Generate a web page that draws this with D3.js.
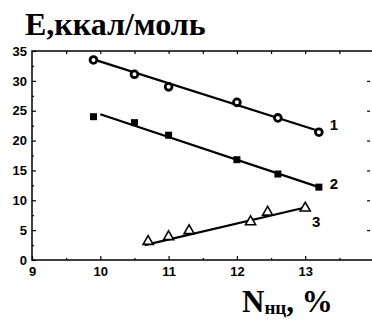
<!DOCTYPE html>
<html>
<head>
<meta charset="utf-8">
<script src="https://cdn.jsdelivr.net/npm/d3@7"></script>
<style>
  body { margin: 0; background: #fff; }
  svg { display: block; }
</style>
</head>
<body>
<div id="chart"></div>
<script>
// data
const x1 = [9.9, 10.5, 11.0, 12.0, 12.6, 13.2];
const e1 = [33.5, 31.1, 29.0, 26.4, 23.8, 21.4];
const x2 = [9.9, 10.5, 11.0, 12.0, 12.6, 13.2];
const e2 = [24.0, 23.0, 20.9, 16.8, 14.4, 12.2];
const x3 = [10.7, 11.0, 11.3, 12.2, 12.45, 13.0];
const e3 = [3.1, 3.9, 4.9, 6.4, 8.0, 8.7];

// fitted straight lines (ends)
const fitX1 = [9.9, 13.2], fitE1 = [33.6, 21.6];
const fitX2 = [10.0, 13.2], fitE2 = [24.4, 12.2];
const fitX3 = [10.65, 13.0], fitE3 = [2.5, 8.8];

const seriesNames = ['1', '2', '3'];
const xTicks = [9, 10, 11, 12, 13];
const yTicks = [0, 5, 10, 15, 20, 25, 30, 35];

const width = 372, height = 320;
const svg = d3.select('#chart').append('svg')
  .attr('width', width)
  .attr('height', height);

// 1. scales
const x = d3.scaleLinear().domain([9, 14]).range([32, 373.5]);
const y = d3.scaleLinear().domain([0, 35]).range([260, 51]);

// 2. frame
svg.append('path')
  .attr('d', `M${x(14)},${y(35)}H${x(9)}V${y(0)}H${x(14)}`)
  .attr('fill', 'none')
  .attr('stroke', '#000')
  .attr('stroke-width', 1.5);

// 3. axes, ticks pointing inside
const tickFont = 'bold 13px "Liberation Sans", Arial, sans-serif';

const bottomAxis = svg.append('g')
  .attr('transform', `translate(0,${y(0)})`)
  .call(d3.axisBottom(x).tickValues(xTicks).tickSize(-4).tickPadding(7).tickFormat(d3.format('d')));
bottomAxis.select('.domain').remove();
bottomAxis.selectAll('text').style('font', tickFont);

svg.append('g')
  .attr('transform', `translate(0,${y(0)})`)
  .call(d3.axisBottom(x).tickValues(d3.range(9.5, 14, 1)).tickSize(-2).tickFormat(''))
  .select('.domain').remove();

svg.append('g')
  .attr('transform', `translate(0,${y(35)})`)
  .call(d3.axisTop(x).tickValues(d3.range(9.5, 14, 0.5)).tickSize(-3).tickFormat(''))
  .select('.domain').remove();

const leftAxis = svg.append('g')
  .attr('transform', `translate(${x(9)},0)`)
  .call(d3.axisLeft(y).tickValues(yTicks).tickSize(-4).tickPadding(5).tickFormat(d3.format('d')));
leftAxis.select('.domain').remove();
leftAxis.selectAll('text').style('font', tickFont);

svg.append('g')
  .attr('transform', `translate(${x(9)},0)`)
  .call(d3.axisLeft(y).tickValues(d3.range(2.5, 35, 5)).tickSize(-2).tickFormat(''))
  .select('.domain').remove();

svg.append('g')
  .attr('transform', `translate(${x(13.95)},0)`)
  .call(d3.axisRight(y).tickValues(d3.range(5, 35, 5)).tickSize(-3).tickFormat(''))
  .select('.domain').remove();

svg.selectAll('.tick line').attr('stroke', '#000').attr('stroke-width', 1.2);

// 4. fit lines
const line = d3.line().x(d => x(d[0])).y(d => y(d[1]));
[[fitX1, fitE1], [fitX2, fitE2], [fitX3, fitE3]].forEach(([fx, fe]) => {
  svg.append('path')
    .attr('d', line(d3.zip(fx, fe)))
    .attr('fill', 'none')
    .attr('stroke', '#000')
    .attr('stroke-width', 2.2);
});

// 5. markers
svg.selectAll('.c1')
  .data(d3.zip(x1, e1))
  .join('circle')
  .attr('cx', d => x(d[0]))
  .attr('cy', d => y(d[1]))
  .attr('r', 3.4)
  .attr('fill', '#fff')
  .attr('stroke', '#000')
  .attr('stroke-width', 2.8);

svg.selectAll('.s2')
  .data(d3.zip(x2, e2))
  .join('rect')
  .attr('x', d => x(d[0]) - 3.5)
  .attr('y', d => y(d[1]) - 3.5)
  .attr('width', 7)
  .attr('height', 7)
  .attr('fill', '#000');

const tri = d3.symbol().type(d3.symbolTriangle).size(44);
svg.selectAll('.t3')
  .data(d3.zip(x3, e3))
  .join('path')
  .attr('d', tri)
  .attr('transform', d => `translate(${x(d[0])},${y(d[1])})`)
  .attr('fill', '#fff')
  .attr('stroke', '#000')
  .attr('stroke-width', 1.6);

// 6. series labels
const labelPos = [[13.36, 22.6], [13.36, 12.7], [13.1, 6.4]];
svg.selectAll('.lab')
  .data(seriesNames)
  .join('text')
  .attr('x', (d, i) => x(labelPos[i][0]))
  .attr('y', (d, i) => y(labelPos[i][1]))
  .attr('dy', '0.35em')
  .style('font', 'bold 15px "Liberation Sans", Arial, sans-serif')
  .text(d => d);

// 7. axis titles
svg.append('text')
  .attr('x', 25)
  .attr('y', 35)
  .style('font', 'bold 32px "Liberation Serif", "Times New Roman", serif')
  .text('Е,ккал/моль');

const xt = svg.append('text')
  .attr('x', 242)
  .attr('y', 312)
  .style('font', 'bold 31px "Liberation Serif", "Times New Roman", serif');
xt.append('tspan').text('N');
xt.append('tspan').attr('dy', 2).style('font-size', '19px').text('нц');
xt.append('tspan').attr('dy', -2).text(', %');
</script>
</body>
</html>
